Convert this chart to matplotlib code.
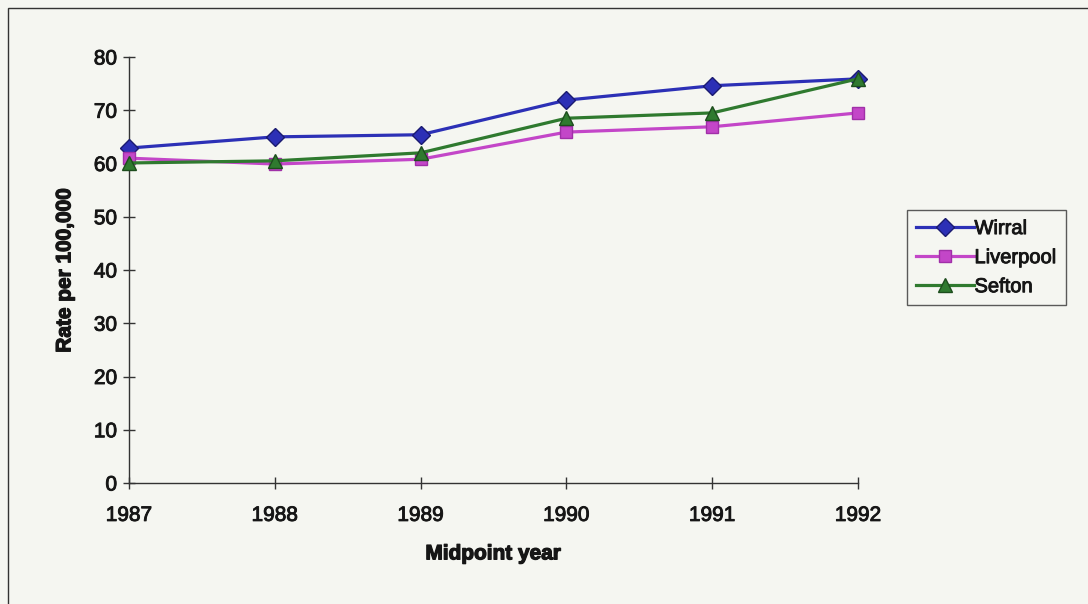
import matplotlib
matplotlib.use("Agg")
import matplotlib.pyplot as plt
import matplotlib.patheffects as pe
from matplotlib.patches import Rectangle

years = [1987, 1988, 1989, 1990, 1991, 1992]
wirral = [62.9, 65.0, 65.4, 71.9, 74.6, 75.9]
liverpool = [61.0, 59.9, 60.8, 65.9, 66.9, 69.5]
sefton = [60.1, 60.5, 62.0, 68.5, 69.5, 75.9]
y_ticks = [0, 10, 20, 30, 40, 50, 60, 70, 80]

plt.rcParams['font.family'] = ['Liberation Sans', 'DejaVu Sans']

bg = '#f5f6f1'
ink = '#161616'
heavy = [pe.withStroke(linewidth=0.65, foreground=ink)]
heavier = [pe.withStroke(linewidth=0.9, foreground=ink)]

fig = plt.figure(figsize=(10.88, 6.04), dpi=100, facecolor=bg)
ax = fig.add_axes([129 / 1088, 1 - 483 / 604, (858 - 129) / 1088, (483 - 57) / 604])
ax.set_facecolor('none')

# outer chart frame
fig.patches.append(Rectangle((8 / 1088, -0.01), 1.05, 1 - 8 / 604 + 0.01,
                             transform=fig.transFigure, fill=False,
                             edgecolor='#333333', linewidth=1.0))

series = [
    ('Wirral', wirral, '#2c30b6', '#1a1a70', 'D', 9),
    ('Liverpool', liverpool, '#c346c8', '#a030a8', 's', 9),
    ('Sefton', sefton, '#2f7a2f', '#1d4d1d', '^', 10),
]
for name, vals, col, edge, mk, ms in series:
    ax.plot(years, vals, color=col, linewidth=2.3, marker=mk, markersize=ms,
            markerfacecolor=col, markeredgecolor=edge, markeredgewidth=1.0,
            label=name, clip_on=False, zorder=3)

ax.set_xlim(1987, 1992)
ax.set_ylim(0, 80)
ax.set_xticks(years)
ax.set_xticklabels([str(y) for y in years])
ax.set_yticks(y_ticks)
for s in ['top', 'right']:
    ax.spines[s].set_visible(False)
for s in ['left', 'bottom']:
    ax.spines[s].set_color('#333333')
    ax.spines[s].set_linewidth(1.0)
ax.tick_params(axis='both', direction='inout', length=9, width=1.0,
               color='#333333', labelsize=15, labelcolor=ink)
ax.tick_params(axis='y', pad=4)
ax.tick_params(axis='x', pad=12)
for lbl in ax.get_xticklabels() + ax.get_yticklabels():
    lbl.set_path_effects(heavy)

xl = ax.set_xlabel('Midpoint year', fontsize=15, fontweight='bold', labelpad=14, color=ink)
yl = ax.set_ylabel('Rate per 100,000', fontsize=15, fontweight='bold', labelpad=14, color=ink)
xl.set_path_effects(heavier)
yl.set_path_effects(heavier)

leg = fig.legend(loc='upper left', bbox_to_anchor=(907 / 1088, 1 - 210 / 604),
                 frameon=True, fancybox=False, fontsize=14.5, handlelength=2.9,
                 handletextpad=0.0, borderpad=0.45, labelspacing=0.5,
                 borderaxespad=0)
leg.get_frame().set_edgecolor('#333333')
leg.get_frame().set_linewidth(1.0)
leg.get_frame().set_facecolor(bg)
for t in leg.get_texts():
    t.set_color(ink)
    t.set_path_effects(heavy)

fig.savefig('out.png', dpi=100, facecolor=bg)
